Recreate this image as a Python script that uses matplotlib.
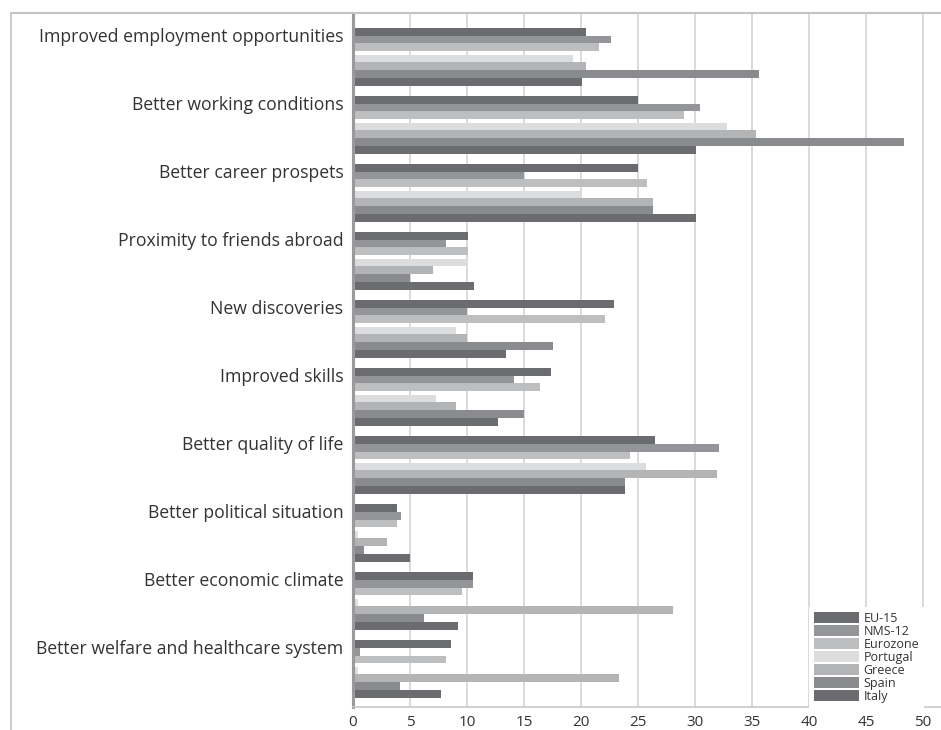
import numpy as np
import matplotlib
matplotlib.use("Agg")
import matplotlib.pyplot as plt
from matplotlib.lines import Line2D

plt.rcParams['font.family'] = ['Open Sans', 'DejaVu Sans']

# categories, top to bottom
categories = ["Improved employment opportunities", "Better working conditions",
              "Better career prospets", "Proximity to friends abroad",
              "New discoveries", "Improved skills", "Better quality of life",
              "Better political situation", "Better economic climate",
              "Better welfare and healthcare system"]

series = ["EU-15", "NMS-12", "Eurozone", "Portugal", "Greece", "Spain", "Italy"]

eu15     = [20.4, 25.0, 25.0, 10.1, 22.9, 17.4, 26.5, 3.9, 10.5, 8.6]
nms12    = [22.6, 30.4, 15.0, 8.2, 10.0, 14.1, 32.1, 4.2, 10.5, 0.6]
eurozone = [21.6, 29.0, 25.8, 10.1, 22.1, 16.4, 24.3, 3.85, 9.55, 8.2]
portugal = [19.3, 32.85, 19.95, 10.0, 9.05, 7.25, 25.7, 0.45, 0.45, 0.45]
greece   = [20.4, 35.35, 26.3, 7.0, 10.0, 9.05, 31.9, 3.0, 28.1, 23.3]
spain    = [35.6, 48.3, 26.3, 5.0, 17.5, 15.0, 23.9, 1.0, 6.2, 4.1]
italy    = [20.05, 30.05, 30.05, 10.6, 13.4, 12.7, 23.9, 5.0, 9.2, 7.7]

values = [eu15, nms12, eurozone, portugal, greece, spain, italy]
colors = ["#6b6c6f", "#939598", "#bcbec0", "#dcddde", "#b3b4b6", "#8a8b8e", "#6b6c6f"]

W, H = 941, 730
fig = plt.figure(figsize=(W / 100, H / 100), dpi=100)
ax = fig.add_axes([353 / W, 1 - 707 / H, (W - 353) / W, (707 - 13) / H])

h = 0.114   # bar height (group spacing = 1)
gap = 0.05  # small gap between Eurozone and Portugal
pos = np.arange(len(categories))
for i, (name, vals, c) in enumerate(zip(series, values, colors)):
    off = i * h + (gap if i >= 3 else 0)
    ax.barh(pos + off, vals, height=h, align='edge', color=c, label=name,
            edgecolor='none', zorder=2)

ax.set_xlim(0, (W - 353) / 11.4)
ax.set_ylim(9.985, -0.22)
ax.set_xticks(np.arange(0, 51, 5))
ax.set_xticklabels([str(v) for v in range(0, 51, 5)])
ax.set_yticks(pos + 0.1)
ax.set_yticklabels(categories)
ax.tick_params(axis='y', length=0, pad=7, labelsize=12.7, labelcolor='#333333')
ax.tick_params(axis='x', length=0, pad=6, labelsize=11, labelcolor='#333333')

ax.grid(axis='x', color='#d4d4d4', linewidth=1.2, zorder=0)
ax.set_axisbelow(True)
for s in ['top', 'right']:
    ax.spines[s].set_visible(False)
ax.spines['left'].set_color('#9a9a9a')
ax.spines['left'].set_linewidth(2.2)
ax.spines['bottom'].set_color('#c8c8c8')
ax.spines['bottom'].set_linewidth(1.2)

# outer frame (top and left)
fig.add_artist(Line2D([11 / W, 1], [1 - 13 / H, 1 - 13 / H], color='#c4c4c4', lw=1.5,
                      transform=fig.transFigure))
fig.add_artist(Line2D([11 / W, 11 / W], [0, 1 - 13 / H], color='#c4c4c4', lw=1.2,
                      transform=fig.transFigure))

leg = ax.legend(loc='upper left', bbox_to_anchor=(809 / W, 1 - 607 / H),
                bbox_transform=fig.transFigure, fontsize=9, labelspacing=0,
                handlelength=3.6, handleheight=1.0, handletextpad=0.35,
                borderpad=0.4, borderaxespad=0, frameon=True, fancybox=False)
leg.get_frame().set_facecolor('white')
leg.get_frame().set_edgecolor('none')
leg.get_frame().set_alpha(1)
for t in leg.get_texts():
    t.set_color('#333333')

fig.savefig("out.png", dpi=100)
